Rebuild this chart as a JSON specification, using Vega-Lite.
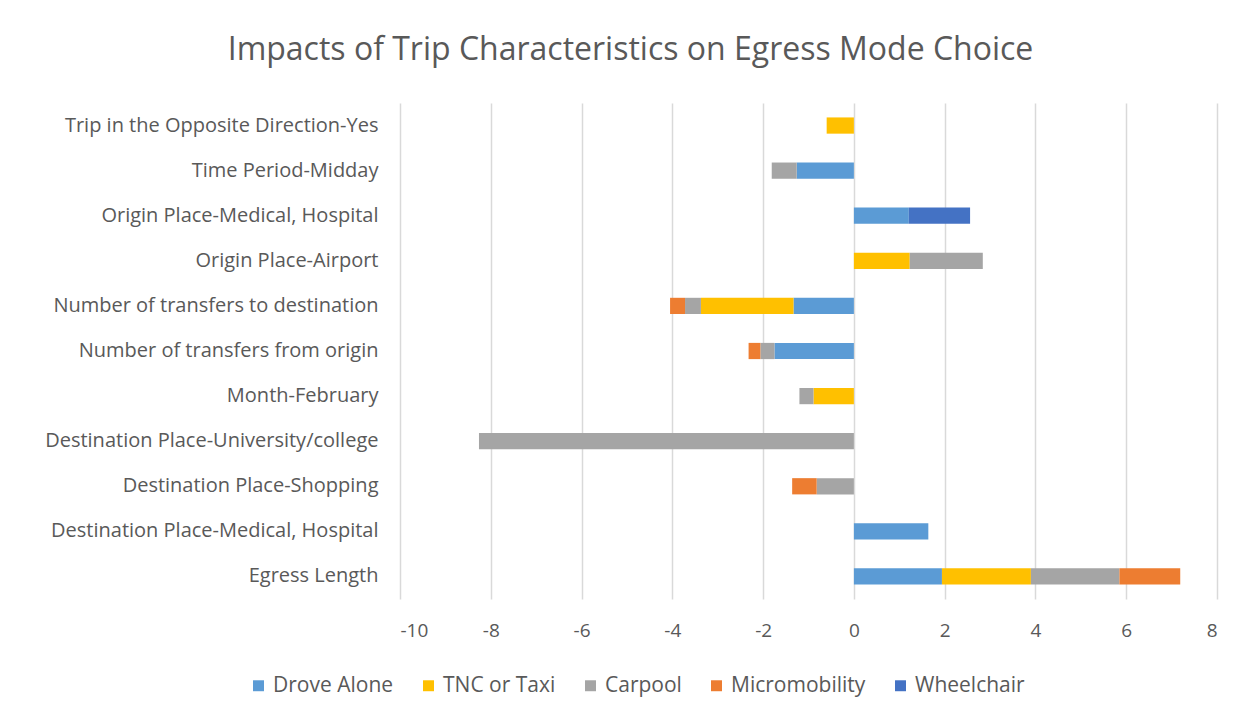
{
  "$schema": "https://vega.github.io/schema/vega-lite/v6.json",
  "width": 817,
  "height": 496,
  "autosize": {"type": "none"},
  "padding": {"left": 400, "top": 103, "right": 35, "bottom": 120},
  "background": "white",
  "title": {
    "text": "Impacts of Trip Characteristics on Egress Mode Choice",
    "font": "Open Sans",
    "fontSize": 32,
    "fontWeight": "normal",
    "color": "#595959",
    "anchor": "middle",
    "dx": -178,
    "baseline": "alphabetic",
    "offset": 11
  },
  "data": {
    "values": [
      {"cat": "Trip in the Opposite Direction-Yes", "mode": "TNC or Taxi", "ord": 2, "value": -0.60},
      {"cat": "Time Period-Midday", "mode": "Drove Alone", "ord": 1, "value": -1.26},
      {"cat": "Time Period-Midday", "mode": "Carpool", "ord": 3, "value": -0.55},
      {"cat": "Origin Place-Medical, Hospital", "mode": "Drove Alone", "ord": 1, "value": 1.21},
      {"cat": "Origin Place-Medical, Hospital", "mode": "Wheelchair", "ord": 5, "value": 1.35},
      {"cat": "Origin Place-Airport", "mode": "TNC or Taxi", "ord": 2, "value": 1.23},
      {"cat": "Origin Place-Airport", "mode": "Carpool", "ord": 3, "value": 1.61},
      {"cat": "Number of transfers to destination", "mode": "Drove Alone", "ord": 1, "value": -1.33},
      {"cat": "Number of transfers to destination", "mode": "TNC or Taxi", "ord": 2, "value": -2.04},
      {"cat": "Number of transfers to destination", "mode": "Carpool", "ord": 3, "value": -0.35},
      {"cat": "Number of transfers to destination", "mode": "Micromobility", "ord": 4, "value": -0.33},
      {"cat": "Number of transfers from origin", "mode": "Drove Alone", "ord": 1, "value": -1.75},
      {"cat": "Number of transfers from origin", "mode": "Carpool", "ord": 3, "value": -0.31},
      {"cat": "Number of transfers from origin", "mode": "Micromobility", "ord": 4, "value": -0.26},
      {"cat": "Month-February", "mode": "TNC or Taxi", "ord": 2, "value": -0.89},
      {"cat": "Month-February", "mode": "Carpool", "ord": 3, "value": -0.31},
      {"cat": "Destination Place-University/college", "mode": "Carpool", "ord": 3, "value": -8.26},
      {"cat": "Destination Place-Shopping", "mode": "Carpool", "ord": 3, "value": -0.82},
      {"cat": "Destination Place-Shopping", "mode": "Micromobility", "ord": 4, "value": -0.54},
      {"cat": "Destination Place-Medical, Hospital", "mode": "Drove Alone", "ord": 1, "value": 1.64},
      {"cat": "Egress Length", "mode": "Drove Alone", "ord": 1, "value": 1.94},
      {"cat": "Egress Length", "mode": "TNC or Taxi", "ord": 2, "value": 1.96},
      {"cat": "Egress Length", "mode": "Carpool", "ord": 3, "value": 1.95},
      {"cat": "Egress Length", "mode": "Micromobility", "ord": 4, "value": 1.34}
    ]
  },
  "mark": {"type": "bar"},
  "encoding": {
    "y": {
      "field": "cat",
      "type": "nominal",
      "sort": [
        "Trip in the Opposite Direction-Yes",
        "Time Period-Midday",
        "Origin Place-Medical, Hospital",
        "Origin Place-Airport",
        "Number of transfers to destination",
        "Number of transfers from origin",
        "Month-February",
        "Destination Place-University/college",
        "Destination Place-Shopping",
        "Destination Place-Medical, Hospital",
        "Egress Length"
      ],
      "scale": {"paddingInner": 0.64, "paddingOuter": 0.32},
      "axis": {
        "title": null,
        "domain": false,
        "ticks": false,
        "labelPadding": 22,
        "labelFont": "Open Sans",
        "labelFontSize": 20,
        "labelColor": "#595959",
        "labelLimit": 400
      }
    },
    "x": {
      "field": "value",
      "type": "quantitative",
      "stack": "zero",
      "scale": {"domain": [-10, 8], "nice": false},
      "axis": {
        "title": null,
        "values": [-10, -8, -6, -4, -2, 0, 2, 4, 6, 8],
        "labelExpr": "'' + datum.value",
        "domain": false,
        "ticks": false,
        "grid": true,
        "gridColor": "#D9D9D9",
        "gridWidth": 1.5,
        "labelPadding": 22,
        "labelFont": "Open Sans",
        "labelFontSize": 19,
        "labelColor": "#595959"
      }
    },
    "order": {"field": "ord", "type": "quantitative"},
    "color": {
      "field": "mode",
      "type": "nominal",
      "scale": {
        "domain": ["Drove Alone", "TNC or Taxi", "Carpool", "Micromobility", "Wheelchair"],
        "range": ["#5B9BD5", "#FFC000", "#A5A5A5", "#ED7D31", "#4472C4"]
      },
      "legend": {
        "title": null,
        "orient": "none",
        "direction": "horizontal",
        "columns": 5,
        "legendX": -152,
        "legendY": 572,
        "symbolType": "square",
        "symbolSize": 120,
        "symbolStrokeWidth": 0,
        "labelFont": "Open Sans",
        "labelFontSize": 21,
        "labelColor": "#595959",
        "columnPadding": 24,
        "labelOffset": 4
      }
    }
  },
  "config": {
    "view": {"stroke": null}
  }
}
